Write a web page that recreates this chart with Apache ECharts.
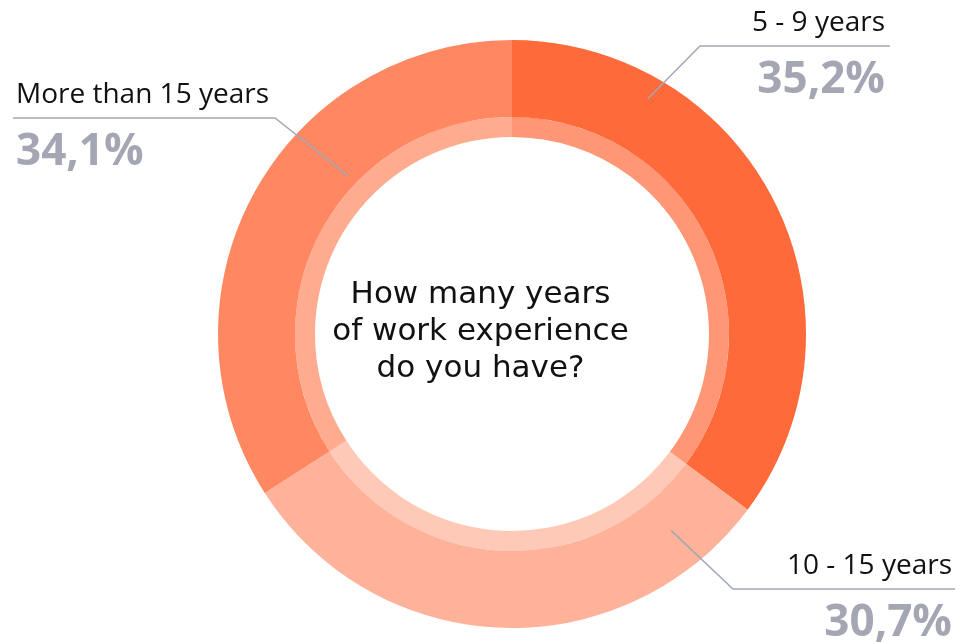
<!DOCTYPE html>
<html>
<head>
<meta charset="utf-8">
<script src="https://cdn.jsdelivr.net/npm/echarts@6/dist/echarts.min.js"></script>
<style>
  html, body { margin: 0; padding: 0; background: #fff; }
  #chart { width: 961px; height: 642px; }
</style>
</head>
<body>
<div id="chart"></div>
<script>
// survey answers, clockwise from 12 o'clock
const CATEGORIES = ['5 - 9 years', '10 - 15 years', 'More than 15 years'];
const SHARES = [35.2, 30.7, 34.1];
const COLORS = ['#FF6A3B', '#FFB29A', '#FF8761'];
const QUESTION = ['How many years', 'of work experience', 'do you have?'];

const CENTER = [512, 334];
const OUTER_R = 294;
const RING_R = 217;
const INNER_R = 197;

// where each callout line touches the ring (polar, from 12 o'clock), its elbow and its end
const CALLOUTS = [
  { angle: 30, r: 272, elbowX: 700, lineY: 46, endX: 890, align: 'right', textX: 885 },
  { angle: 141, r: 253, elbowX: 733, lineY: 589, endX: 955, align: 'right', textX: 952 },
  { angle: -46, r: 228, elbowX: 275, lineY: 118, endX: 13, align: 'left', textX: 16 }
];

const fmtPct = (v) => v.toFixed(1).replace('.', ',') + '%';

const chart = echarts.init(document.getElementById('chart'));

const pieData = CATEGORIES.map((name, i) => ({
  name,
  value: SHARES[i],
  itemStyle: { color: COLORS[i] }
}));

const ring = (radius, opacity, z) => ({
  type: 'pie',
  center: CENTER,
  radius,
  startAngle: 90,
  silent: true,
  z,
  data: pieData.map((d) => ({ name: d.name, value: d.value, itemStyle: { color: d.itemStyle.color, opacity } })),
  label: { show: false },
  labelLine: { show: false }
});

chart.setOption({
  animation: false,
  title: {
    text: QUESTION.join('\n'),
    left: 'center',
    top: 271,
    textStyle: {
      fontFamily: 'DejaVu Sans',
      fontSize: 31,
      fontWeight: 'normal',
      lineHeight: 37,
      color: '#111'
    }
  },
  series: [
    ring([RING_R, OUTER_R], 1, 2),
    ring([INNER_R, RING_R], 0.7, 1),
    {
      // transparent copy on top, only carries the callouts
      type: 'pie',
      center: CENTER,
      radius: [RING_R, OUTER_R],
      startAngle: 90,
      silent: true,
      z: 3,
      data: pieData.map((d) => ({ name: d.name, value: d.value })),
      itemStyle: { color: 'rgba(0,0,0,0)' },
      label: {
        show: true,
        position: 'outside',
        overflow: 'none',
        formatter: (p) => `{n|${p.name}}\n{p|${fmtPct(p.value)}}`,
        rich: {
          n: { fontFamily: 'Open Sans', fontSize: 28, color: '#111', lineHeight: 46 },
          p: { fontFamily: 'Open Sans', fontSize: 44, fontWeight: 'bold', color: '#A4A7B3', lineHeight: 68 }
        }
      },
      labelLine: {
        show: true,
        showAbove: true,
        lineStyle: { color: '#A4A7B5', width: 1.5 }
      },
      labelLayout: (params) => {
        const c = CALLOUTS[params.dataIndex];
        const a = (c.angle * Math.PI) / 180;
        const anchor = [CENTER[0] + c.r * Math.sin(a), CENTER[1] - c.r * Math.cos(a)];
        return {
          x: c.textX,
          y: c.lineY - 46,
          align: c.align,
          verticalAlign: 'top',
          labelLinePoints: [anchor, [c.elbowX, c.lineY], [c.endX, c.lineY]]
        };
      }
    }
  ]
});
</script>
</body>
</html>
